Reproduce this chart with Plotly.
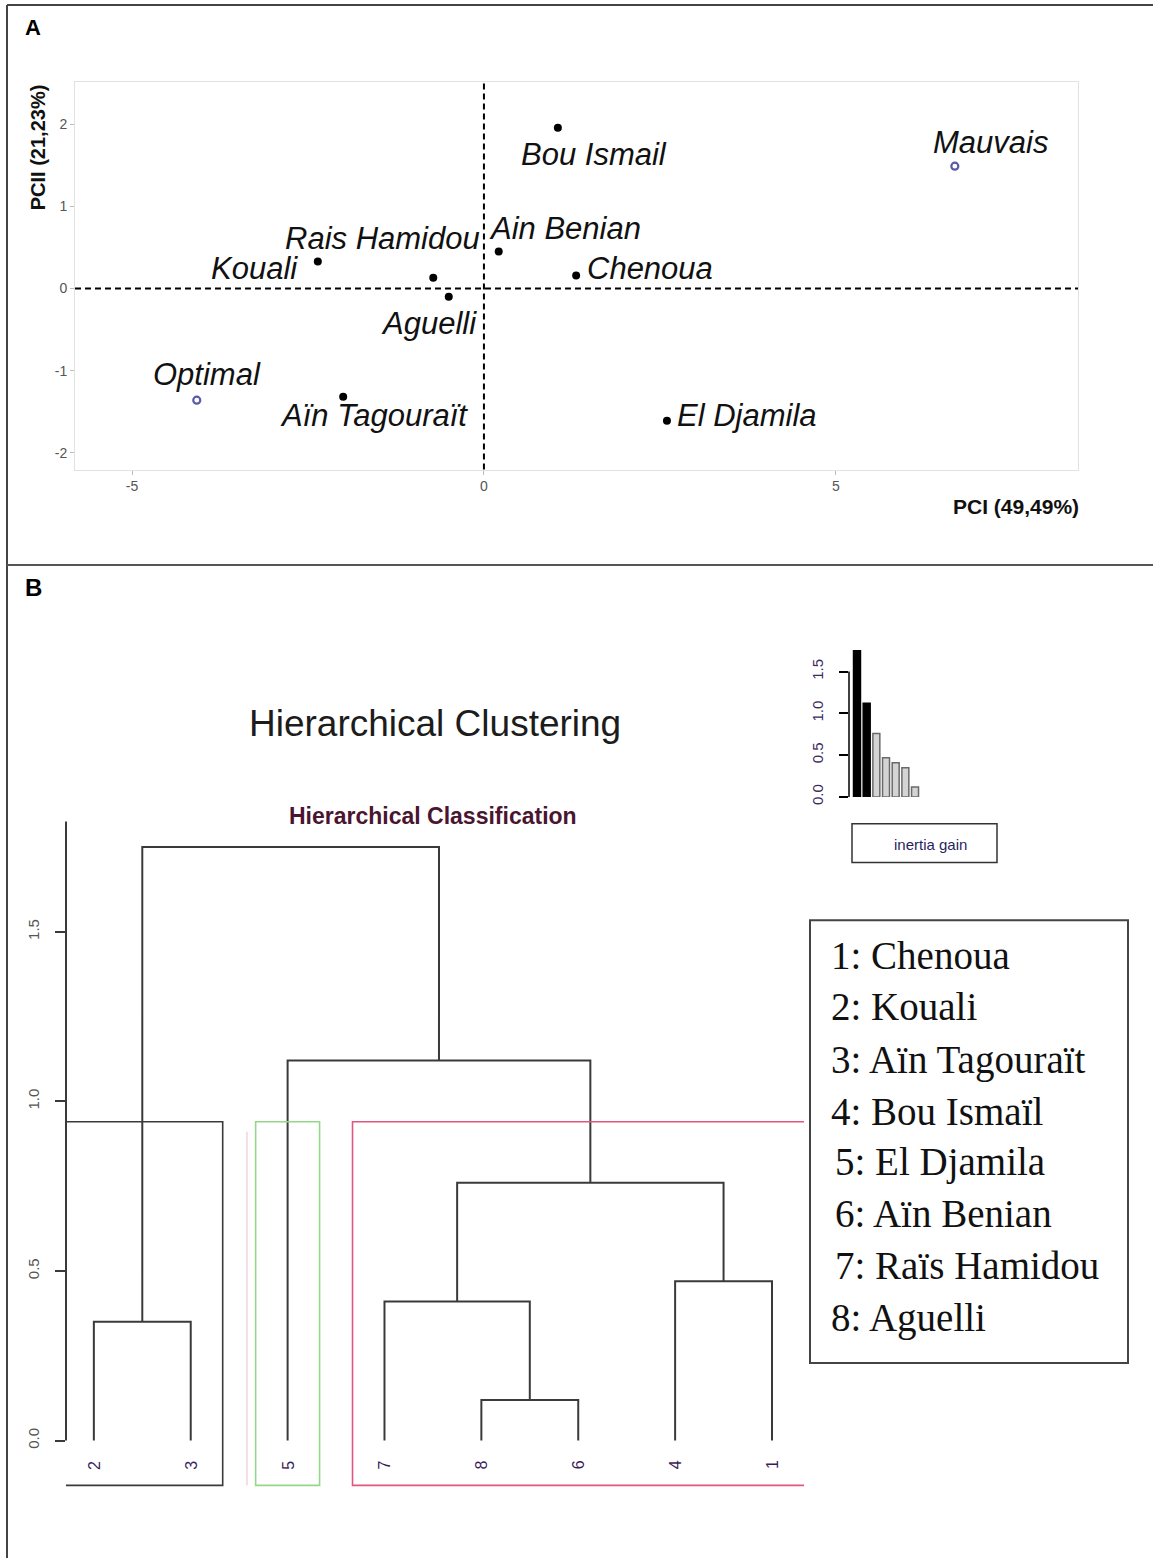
import plotly.graph_objects as go

W, H = 1153, 1566

# ---------------- Panel A : PCA map of the sites ----------------
sites = ["Bou Ismail", "Mauvais", "Ain Benian", "Chenoua", "Rais Hamidou", "Kouali",
         "Aguelli", "Optimal", "Aïn Tagouraït", "El Djamila"]
pc1 = [1.05, 6.69, 0.21, 1.31, -0.72, -2.36, -0.50, -4.08, -2.00, 2.60]
pc2 = [1.96, 1.49, 0.45, 0.16, 0.13, 0.33, -0.10, -1.36, -1.32, -1.61]
reference_sites = ["Optimal", "Mauvais"]
# label offsets from each point (pixels)
label_dx = [36, 36, 66, 74, -51, -63, -20, 10, 31, 80]
label_dy = [-27, 24, 23, 7, 39, -7, -27, 26, -19, 5]

pc_ticks = [-5, 0, 5]
pc2_ticks = [-2, -1, 0, 1, 2]
pc1_title = "PCI (49,49%)"
pc2_title = "PCII (21,23%)"

# ---------------- Panel B : hierarchical clustering ----------------
leaf_order = ["2", "3", "5", "7", "8", "6", "4", "1"]
merge_a = ["8", "2", "7", "4", "m3", "5", "m2"]
merge_b = ["6", "3", "m1", "1", "m4", "m5", "m6"]
merge_height = [0.12, 0.35, 0.41, 0.47, 0.76, 1.12, 1.75]
clusters = [["2", "3"], ["5"], ["7", "8", "6", "4", "1"]]
cluster_colors = ["#3a3a3a", "#96d68a", "#e2577f"]
cut_height = 0.94
height_ticks = [0.0, 0.5, 1.0, 1.5]
gain_ticks = [0.0, 0.5, 1.0, 1.5]
site_names = ["Chenoua", "Kouali", "Aïn Tagouraït", "Bou Ismaïl", "El Djamila",
              "Aïn Benian", "Raïs Hamidou", "Aguelli"]


def px(x):
    return x / W


def py(y):
    return 1 - y / H


SANS = "Liberation Sans, Arial, sans-serif"
SERIF = "Liberation Serif, Times New Roman, serif"

fig = go.Figure()

# PCA points
normal = [i for i, s in enumerate(sites) if s not in reference_sites]
ref = [i for i, s in enumerate(sites) if s in reference_sites]
fig.add_trace(go.Scatter(
    x=[pc1[i] for i in normal], y=[pc2[i] for i in normal], mode="markers",
    marker=dict(color="black", size=8), xaxis="x", yaxis="y", hoverinfo="skip"))
fig.add_trace(go.Scatter(
    x=[pc1[i] for i in ref], y=[pc2[i] for i in ref], mode="markers",
    marker=dict(color="#5a5aa8", size=7, symbol="circle-open", line=dict(width=2.2)),
    xaxis="x", yaxis="y", hoverinfo="skip"))

annotations = []
for i, s in enumerate(sites):
    annotations.append(dict(
        x=pc1[i], y=pc2[i], xref="x", yref="y", text="<i>" + s + "</i>",
        showarrow=False, xshift=label_dx[i], yshift=label_dy[i],
        xanchor="center", yanchor="middle",
        font=dict(family=SANS, size=31, color="#111")))

# dendrogram geometry
pos = {lab: i + 1 for i, lab in enumerate(leaf_order)}
hgt = {lab: 0.0 for lab in leaf_order}
dx, dy = [], []
for k, (a, b, h) in enumerate(zip(merge_a, merge_b, merge_height)):
    xa, xb = pos[a], pos[b]
    dx += [xa, xa, xb, xb, None]
    dy += [hgt[a], h, h, hgt[b], None]
    name = "m%d" % (k + 1)
    pos[name] = (xa + xb) / 2
    hgt[name] = h
fig.add_trace(go.Scatter(x=dx, y=dy, mode="lines", line=dict(color="#3a3a3a", width=2),
                         xaxis="x2", yaxis="y2", hoverinfo="skip"))

# inertia gain bar chart
gains = sorted(merge_height, reverse=True)
n_groups = len(clusters)
bar_fill = ["black" if i < n_groups - 1 else "#d4d4d4" for i in range(len(gains))]
bar_line = ["black" if i < n_groups - 1 else "#6a6a6a" for i in range(len(gains))]
fig.add_trace(go.Bar(x=list(range(1, len(gains) + 1)), y=gains, width=0.72,
                     marker=dict(color=bar_fill, line=dict(color=bar_line, width=1.5)),
                     xaxis="x3", yaxis="y3", hoverinfo="skip"))

shapes = []
# outer frame and panel divider
shapes.append(dict(type="line", xref="paper", yref="paper", x0=px(7), x1=px(7), y0=py(5), y1=0,
                   line=dict(color="#444", width=2)))
shapes.append(dict(type="line", xref="paper", yref="paper", x0=px(7), x1=1, y0=py(5), y1=py(5),
                   line=dict(color="#444", width=2)))
shapes.append(dict(type="line", xref="paper", yref="paper", x0=px(7), x1=1, y0=py(568), y1=py(568),
                   line=dict(color="#555", width=2)))
# PCA reference axes
shapes.append(dict(type="line", xref="x domain", yref="y", x0=0, x1=1, y0=0, y1=0,
                   line=dict(color="black", width=2, dash="6px,4px")))
shapes.append(dict(type="line", xref="x", yref="y domain", x0=0, x1=0, y0=0, y1=1,
                   line=dict(color="black", width=2, dash="6px,4px")))

# dendrogram height axis line
shapes.append(dict(type="line", xref="x2 domain", yref="y2", x0=0, x1=0, y0=0, y1=1.825,
                   line=dict(color="#3a3a3a", width=2)))
# cluster boxes
pad = 0.33
box_bottom = -0.132
for members, col in zip(clusters, cluster_colors):
    xs = [pos[m] for m in members]
    left, right = min(xs) - pad, max(xs) + pad
    if len(members) == 1:
        path = "M %f,%f L %f,%f L %f,%f L %f,%f Z" % (left, box_bottom, left, cut_height,
                                                     right, cut_height, right, box_bottom)
    elif col == cluster_colors[0]:
        path = "M %f,%f L %f,%f L %f,%f L %f,%f" % (left, cut_height, right, cut_height,
                                                   right, box_bottom, left, box_bottom)
    else:
        path = "M %f,%f L %f,%f L %f,%f L %f,%f" % (right, cut_height, left, cut_height,
                                                   left, box_bottom, right, box_bottom)
    shapes.append(dict(type="path", xref="x2", yref="y2", path=path,
                       line=dict(color=col, width=1.6)))
# faint shadow line beside the single-site box
shapes.append(dict(type="line", xref="x2", yref="y2", x0=pos["5"] - 0.42, x1=pos["5"] - 0.42,
                   y0=box_bottom, y1=cut_height - 0.03, line=dict(color="#f6dde4", width=2)))
# gain axis line
shapes.append(dict(type="line", xref="x3 domain", yref="y3", x0=0, x1=0, y0=0, y1=1.5,
                   line=dict(color="black", width=1.5)))
# "inertia gain" box
shapes.append(dict(type="rect", xref="paper", yref="paper", x0=px(852), x1=px(997),
                   y0=py(867), y1=py(828), line=dict(color="#333", width=1.5)))
# site legend box
shapes.append(dict(type="rect", xref="paper", yref="paper", x0=px(810), x1=px(1128),
                   y0=py(1370), y1=py(925), line=dict(color="#444", width=2)))

# leaf labels
for lab in leaf_order:
    annotations.append(dict(x=pos[lab], y=0, xref="x2", yref="y2", text=lab, showarrow=False,
                            yshift=-18, textangle=-90, xanchor="center", yanchor="top",
                            font=dict(family=SANS, size=16, color="#3b1d5c")))


def paper_text(x, y, text, size, color="#111", family=SANS, angle=0, xanchor="center"):
    return dict(x=px(x), y=py(y), xref="paper", yref="paper", text=text, showarrow=False,
                xanchor=xanchor, yanchor="middle", textangle=angle,
                font=dict(family=family, size=size, color=color))


# panel letters, titles
annotations += [
    paper_text(33, 28, "<b>A</b>", 22, "black"),
    paper_text(33, 591, "<b>B</b>", 24, "black"),
    paper_text(1016, 509, "<b>" + pc1_title + "</b>", 21),
    paper_text(38, 148, "<b>" + pc2_title + "</b>", 20, angle=-90),
    paper_text(435, 727, "Hierarchical Clustering", 37, "#1c1c1c"),
    paper_text(433, 820, "<b>Hierarchical Classification</b>", 23, "#4a1530"),
    paper_text(930, 849, "inertia gain", 15, "#2a1f5e"),
]

legend_y = [960, 1012, 1065, 1117, 1168, 1220, 1272, 1325]
legend_x = [829, 829, 829, 829, 833, 833, 833, 829]
for i, name in enumerate(site_names):
    annotations.append(paper_text(legend_x[i], legend_y[i], "%d: %s" % (i + 1, name), 39,
                                  family=SERIF, xanchor="left"))

fig.update_layout(
    width=W, height=H, margin=dict(l=0, r=0, t=0, b=0), autosize=False,
    paper_bgcolor="white", plot_bgcolor="white", showlegend=False,
    shapes=shapes, annotations=annotations,
    xaxis=dict(domain=[px(75), px(1078)], range=[-5.81, 8.44], tickvals=pc_ticks,
               ticktext=[str(v) for v in pc_ticks],
               showgrid=False, zeroline=False, showline=True, mirror=True, linecolor="#e2e2e2",
               linewidth=1, ticks="outside", ticklen=4, tickcolor="#bbb",
               tickfont=dict(family=SANS, size=14, color="#555"), anchor="y"),
    yaxis=dict(domain=[py(472), py(82)], range=[-2.206, 2.521], tickvals=pc2_ticks,
               ticktext=[str(v) for v in pc2_ticks],
               showgrid=False, zeroline=False, showline=True, mirror=True, linecolor="#e2e2e2",
               linewidth=1, ticks="outside", ticklen=4, tickcolor="#bbb",
               tickfont=dict(family=SANS, size=14, color="#555"), anchor="x"),
    xaxis2=dict(domain=[px(66), px(806)], range=[0.7125, 8.351], visible=False, anchor="y2"),
    yaxis2=dict(domain=[py(1500), py(820)], range=[-0.1525, 1.8416], anchor="x2",
                tickvals=height_ticks, ticktext=["%.1f" % v for v in height_ticks],
                showgrid=False, zeroline=False, showline=False, ticks="outside", ticklen=10,
                tickcolor="#3a3a3a", tickwidth=1.5, tickangle=-90, ticklabelstandoff=10,
                tickfont=dict(family=SANS, size=15, color="#555")),
    xaxis3=dict(domain=[px(849), px(925)], range=[0.173, 8.03], visible=False, anchor="y3"),
    yaxis3=dict(domain=[py(801), py(650)], range=[0, 1.798], anchor="x3",
                tickvals=gain_ticks, ticktext=["%.1f" % v for v in gain_ticks],
                showgrid=False, zeroline=False, showline=False, ticks="outside", ticklen=9,
                tickcolor="black", tickwidth=1.5, tickangle=-90, ticklabelstandoff=10,
                tickfont=dict(family=SANS, size=15, color="#3a2a60")),
    bargap=0.2,
)

fig.write_html("out.html")
